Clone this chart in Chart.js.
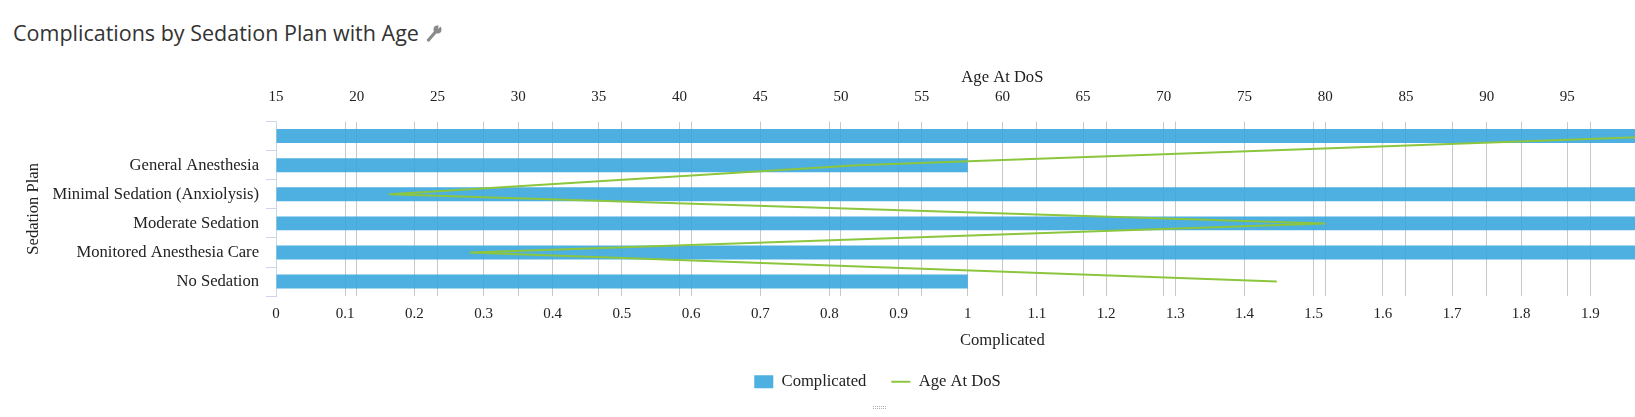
<!DOCTYPE html>
<html>
<head>
<meta charset="utf-8">
<title>Complications by Sedation Plan with Age</title>
<script src="https://cdn.jsdelivr.net/npm/chart.js@4.4.1/dist/chart.umd.min.js"></script>
<style>
  html, body { margin: 0; padding: 0; background: #fff; overflow: hidden; width: 1635px; height: 417px; }
  #title { position: absolute; left: 13px; top: 20px; font: 21.5px 'Open Sans', sans-serif; line-height: 26px; color: #333; white-space: nowrap; }
  #title svg { margin-left: 7px; vertical-align: -1px; }
  #wrap { position: absolute; left: 0; top: 50px; width: 1755px; height: 350px; }
  #grip { position: absolute; left: 873px; top: 406px; width: 13px; height: 1px; border-top: 1px dotted #b0b0b0; border-bottom: 1px dotted #b0b0b0; }
</style>
</head>
<body>
<div id="title">Complications by Sedation Plan with Age<svg width="16" height="18" viewBox="0 0 16 18"><path d="M2.5 16 L9.5 8" stroke="#8a8a8a" stroke-width="3.2" stroke-linecap="round"/><circle cx="11.5" cy="5.5" r="4" fill="#8a8a8a"/><path d="M12 5 L16 1 L16 0 L13 0 Z" fill="#fff"/></svg></div>
<div id="wrap"><canvas id="chart" width="1755" height="350"></canvas></div>
<div id="grip"></div>
<script>
// categories and series
const sedationPlans = ['', 'General Anesthesia', 'Minimal Sedation (Anxiolysis)', 'Moderate Sedation', 'Monitored Anesthesia Care', 'No Sedation'];
const complicated = [2, 1, 2, 2, 2, 1];
const ageAtDoS = [101.5, 51, 22, 80, 27, 77];

// axis ranges: min, max, step
const complicatedAxis = [0, 2.1, 0.1];
const ageAxis = [15, 105, 5];

const serif = 'Liberation Serif';
const textColor = '#222';
const gridColor = '#c8c8c8';
const labelFont = { family: serif, size: 16.6 };
const tickFont = { family: serif, size: 15 };

// legend is centred on the whole (wider) chart, not on the padded box
const legendShift = {
  id: 'legendShift',
  afterLayout(chart) {
    chart.legend.left += 10;
    chart.legend.right += 10;
  }
};

new Chart(document.getElementById('chart'), {
  type: 'bar',
  data: {
    labels: sedationPlans,
    datasets: [
      {
        label: 'Complicated',
        data: complicated,
        xAxisID: 'x',
        backgroundColor: 'rgba(54,164,221,0.88)',
        barPercentage: 0.48,
        categoryPercentage: 1,
        pointStyle: 'rect',
        order: 2
      },
      {
        type: 'line',
        label: 'Age At DoS',
        data: ageAtDoS,
        indexAxis: 'y',
        xAxisID: 'x2',
        borderColor: '#8cc63e',
        backgroundColor: '#8cc63e',
        borderWidth: 2,
        pointRadius: 0,
        tension: 0,
        fill: false,
        pointStyle: 'line',
        order: 1
      }
    ]
  },
  plugins: [legendShift],
  options: {
    indexAxis: 'y',
    responsive: false,
    animation: false,
    layout: { padding: { left: 0, right: 20, top: 0, bottom: 0 } },
    plugins: {
      tooltip: { enabled: false },
      legend: {
        position: 'bottom',
        labels: {
          usePointStyle: true,
          pointStyleWidth: 19,
          boxHeight: 13,
          padding: 25,
          color: textColor,
          font: labelFont,
          sort: (a, b) => a.datasetIndex - b.datasetIndex
        }
      }
    },
    scales: {
      y: {
        position: 'left',
        grid: { drawOnChartArea: false, drawTicks: true, tickLength: 10, color: '#ccd6eb', offset: true },
        border: { color: '#ccd6eb' },
        ticks: { padding: 7, color: textColor, autoSkip: false, font: labelFont },
        title: { display: true, text: 'Sedation Plan', color: textColor, font: labelFont, padding: { top: 24, bottom: 0 } },
        afterFit: s => { s.width = 276; }
      },
      x: {
        position: 'bottom',
        min: complicatedAxis[0],
        max: complicatedAxis[1],
        grid: { color: gridColor, drawTicks: false },
        border: { display: false },
        ticks: {
          stepSize: complicatedAxis[2],
          padding: 8.5,
          color: textColor,
          font: tickFont,
          callback: v => String(Number(v.toFixed(1)))
        },
        title: { display: true, text: 'Complicated', color: textColor, font: labelFont, padding: { top: 0, bottom: -2 } },
        afterFit: s => { s.height = 52.25; }
      },
      x2: {
        position: 'top',
        min: ageAxis[0],
        max: ageAxis[1],
        grid: { color: gridColor, drawTicks: false },
        border: { display: false },
        ticks: { stepSize: ageAxis[2], padding: 15, color: textColor, font: tickFont },
        title: { display: true, text: 'Age At DoS', color: textColor, font: labelFont, padding: { top: 18, bottom: 0 } },
        afterFit: s => { s.height = 71.5; }
      }
    }
  }
});
</script>
</body>
</html>
